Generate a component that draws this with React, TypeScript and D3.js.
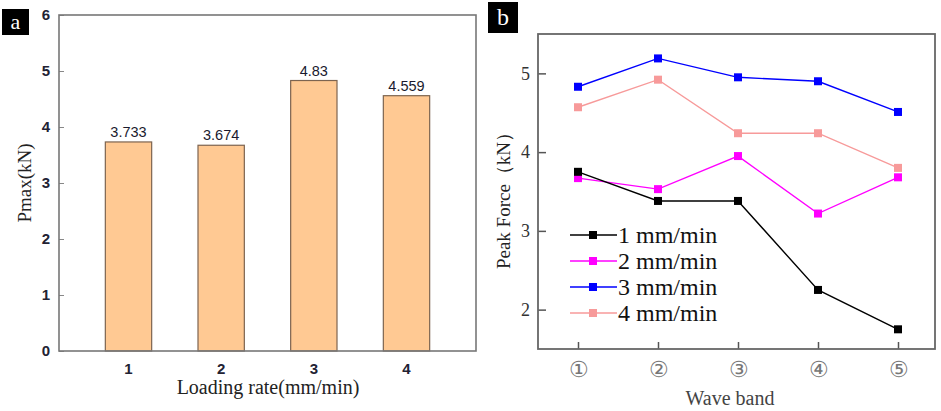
import React, { useEffect, useRef } from "react"
import * as d3 from "d3"

const rates = ["1", "2", "3", "4"]
const pmax = [3.733, 3.674, 4.83, 4.559]
const pmaxLabels = ["3.733", "3.674", "4.83", "4.559"]

const bands = ["①", "②", "③", "④", "⑤"]
const series1 = [3.75, 3.38, 3.38, 2.25, 1.75]
const series2 = [3.67, 3.53, 3.95, 3.22, 3.68]
const series3 = [4.83, 5.19, 4.95, 4.9, 4.51]
const series4 = [4.57, 4.92, 4.24, 4.24, 3.8]
const seriesNames = ["1 mm/min", "2 mm/min", "3 mm/min", "4 mm/min"]
const seriesColors = ["#000000", "#ff00ff", "#0000ff", "#f79a9a"]

const serif = "'Liberation Serif', 'DejaVu Serif', serif"
const sans = "'Liberation Sans', Arial, sans-serif"

export default function App() {
  const ref = useRef<SVGSVGElement | null>(null)

  useEffect(() => {
    const svg = d3.select(ref.current)
    svg.selectAll("*").remove()

    // ---- panel a: bar chart
    const a = { left: 59, right: 476, top: 15, bottom: 351 }
    const x = d3.scaleBand().domain(rates).range([a.left, a.right]).padding(0.5)
    const y = d3.scaleLinear().domain([0, 6]).range([a.bottom, a.top])

    svg.append("rect").attr("x", 2).attr("y", 9).attr("width", 27).attr("height", 26).attr("fill", "#000")
    svg.append("text").attr("x", 15.5).attr("y", 29).attr("text-anchor", "middle")
      .attr("font-family", serif).attr("font-size", 22).attr("fill", "#fff").text("a")

    const ga = svg.append("g")
    ga.selectAll("rect.bar")
      .data(pmax)
      .enter()
      .append("rect")
      .attr("class", "bar")
      .attr("x", (d, i) => x(rates[i]) as number)
      .attr("y", d => y(d))
      .attr("width", x.bandwidth())
      .attr("height", d => y(0) - y(d))
      .attr("fill", "#ffc993")
      .attr("stroke", "#7d6450")
      .attr("stroke-width", 1.2)

    ga.selectAll("text.val")
      .data(pmax)
      .enter()
      .append("text")
      .attr("x", (d, i) => (x(rates[i]) as number) + x.bandwidth() / 2)
      .attr("y", d => y(d) - 5)
      .attr("text-anchor", "middle")
      .attr("font-family", sans)
      .attr("font-size", 14.5)
      .attr("fill", "#1a1a2e")
      .text((d, i) => pmaxLabels[i])

    // y ticks (inward)
    const yAxisA = d3.axisLeft(y).ticks(6).tickSize(-5).tickPadding(9)
    const gya = ga.append("g").attr("transform", `translate(${a.left},0)`).call(yAxisA)
    gya.select(".domain").remove()
    gya.selectAll("line").attr("stroke", "#888")
    gya.selectAll("text").attr("font-family", sans).attr("font-size", 15).attr("font-weight", "bold").attr("fill", "#223")

    const xAxisA = d3.axisBottom(x).tickSize(0).tickPadding(12)
    const gxa = ga.append("g").attr("transform", `translate(0,${a.bottom})`).call(xAxisA)
    gxa.select(".domain").remove()
    gxa.selectAll("text").attr("font-family", sans).attr("font-size", 15).attr("font-weight", "bold").attr("fill", "#223")

    ga.append("rect").attr("x", a.left).attr("y", a.top).attr("width", a.right - a.left).attr("height", a.bottom - a.top)
      .attr("fill", "none").attr("stroke", "#777").attr("stroke-width", 1.6)

    ga.append("text").attr("x", 268).attr("y", 394).attr("text-anchor", "middle")
      .attr("font-family", serif).attr("font-size", 20).attr("fill", "#222").text("Loading rate(mm/min)")
    ga.append("text").attr("transform", "translate(31,183) rotate(-90)").attr("text-anchor", "middle")
      .attr("font-family", serif).attr("font-size", 19).attr("fill", "#222").text("Pmax(kN)")

    // ---- panel b: line chart
    const b = { left: 538, right: 935, top: 34, bottom: 349 }
    const xb = d3.scalePoint().domain(bands).range([578, 898])
    const yb = d3.scaleLinear().domain([1.5, 5.5]).range([b.bottom, b.top])

    svg.append("rect").attr("x", 488).attr("y", 2).attr("width", 30).attr("height", 31).attr("fill", "#000")
    svg.append("text").attr("x", 503).attr("y", 25).attr("text-anchor", "middle")
      .attr("font-family", serif).attr("font-size", 24).attr("fill", "#fff").text("b")

    const gb = svg.append("g")
    const yAxisB = d3.axisLeft(yb).tickValues([2, 3, 4, 5]).tickFormat(d3.format("d")).tickSize(-8).tickPadding(8)
    const gyb = gb.append("g").attr("transform", `translate(${b.left},0)`).call(yAxisB)
    gyb.select(".domain").remove()
    gyb.selectAll("line").attr("stroke", "#555").attr("stroke-width", 1.5)
    gyb.selectAll("text").attr("font-family", serif).attr("font-size", 18).attr("fill", "#333")

    const xAxisB = d3.axisBottom(xb).tickSize(-7).tickPadding(12)
    const gxb = gb.append("g").attr("transform", `translate(0,${b.bottom})`).call(xAxisB)
    gxb.select(".domain").remove()
    gxb.selectAll("line").attr("stroke", "#555").attr("stroke-width", 1.5)
    gxb.selectAll("text").attr("font-family", serif).attr("font-size", 22).attr("fill", "#777")

    gb.append("rect").attr("x", b.left).attr("y", b.top).attr("width", b.right - b.left).attr("height", b.bottom - b.top)
      .attr("fill", "none").attr("stroke", "#666").attr("stroke-width", 1.8)

    const allSeries = [series1, series2, series3, series4]
    const line = d3.line<number>().x((d, i) => xb(bands[i]) as number).y(d => yb(d))
    // draw in order pink, blue, magenta, black so black sits on top
    ;[3, 2, 1, 0].forEach(k => {
      const g = gb.append("g")
      g.append("path").attr("d", line(allSeries[k]) as string).attr("fill", "none")
        .attr("stroke", seriesColors[k]).attr("stroke-width", 1.4)
      g.selectAll("rect")
        .data(allSeries[k])
        .enter()
        .append("rect")
        .attr("x", (d, i) => (xb(bands[i]) as number) - 4)
        .attr("y", d => yb(d) - 4)
        .attr("width", 8)
        .attr("height", 8)
        .attr("fill", seriesColors[k])
    })

    // legend
    const lg = gb.append("g")
    seriesNames.forEach((name, k) => {
      const ly = 235 + k * 26
      lg.append("line").attr("x1", 570).attr("x2", 617).attr("y1", ly).attr("y2", ly)
        .attr("stroke", seriesColors[k]).attr("stroke-width", 1.6)
      lg.append("rect").attr("x", 589).attr("y", ly - 4).attr("width", 8).attr("height", 8).attr("fill", seriesColors[k])
      lg.append("text").attr("x", 618).attr("y", ly + 8).attr("font-family", serif).attr("font-size", 24)
        .attr("fill", "#111").text(name)
    })

    gb.append("text").attr("x", 730).attr("y", 405).attr("text-anchor", "middle")
      .attr("font-family", serif).attr("font-size", 20).attr("fill", "#444").text("Wave band")
    gb.append("text").attr("transform", "translate(510,196) rotate(-90)").attr("text-anchor", "middle")
      .attr("font-family", serif).attr("font-size", 19).attr("fill", "#222").text("Peak Force（kN）")
  }, [])

  return (
    <svg ref={ref} width={941} height={411} style={{ position: "absolute", left: 0, top: 0, background: "#fff" }} />
  )
}
